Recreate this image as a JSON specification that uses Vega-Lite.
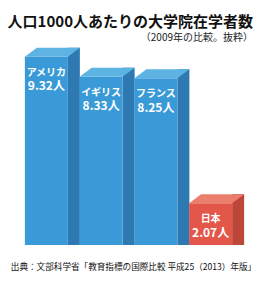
{
  "$schema": "https://vega.github.io/schema/vega-lite/v6.json",
  "width": 219,
  "height": 194,
  "autosize": {"type": "none"},
  "padding": {"left": 19, "top": 51, "right": 25, "bottom": 36},
  "background": "white",
  "config": {
    "view": {"stroke": null},
    "font": "Noto Sans CJK JP"
  },
  "title": {
    "text": "人口1000人あたりの大学院在学者数",
    "subtitle": "（2009年の比較。抜粋）",
    "anchor": "end",
    "frame": "group",
    "dx": 15,
    "offset": 5,
    "font": "Noto Sans CJK JP",
    "fontSize": 15,
    "fontWeight": "bold",
    "color": "#111111",
    "subtitleFont": "Noto Sans CJK JP",
    "subtitleFontSize": 10,
    "subtitleColor": "#222222",
    "subtitlePadding": 3
  },
  "data": {
    "values": [
      {"country": "アメリカ", "value": 9.32},
      {"country": "イギリス", "value": 8.33},
      {"country": "フランス", "value": 8.25},
      {"country": "日本", "value": 2.07}
    ]
  },
  "transform": [
    {"calculate": "format(datum.value, '.2f') + '人'", "as": "label"}
  ],
  "encoding": {
    "x": {
      "field": "country",
      "type": "nominal",
      "sort": null,
      "scale": {"paddingInner": 0, "paddingOuter": 0},
      "axis": {
        "labels": false,
        "ticks": false,
        "domain": false,
        "grid": false,
        "title": "出典：文部科学省「教育指標の国際比較 平成25（2013）年版」",
        "titleFont": "Noto Sans CJK JP",
        "titleFontSize": 8.6,
        "titleFontWeight": "normal",
        "titleColor": "#111111",
        "titlePadding": 17,
        "titleX": 114
      }
    },
    "y": {
      "field": "value",
      "type": "quantitative",
      "scale": {"domain": [0, 9.6], "nice": false},
      "axis": null
    }
  },
  "layer": [
    {
      "mark": {"type": "bar", "width": 12, "xOffset": 27.5, "yOffset": -9},
      "encoding": {
        "y2": {"datum": 0},
        "color": {
          "condition": {"test": "datum.country === '日本'", "value": "#bb4639"},
          "value": "#2f79b3"
        }
      }
    },
    {
      "mark": {"type": "bar", "width": 43},
      "encoding": {
        "y2": {"datum": 0},
        "color": {
          "condition": {"test": "datum.country === '日本'", "value": "#e2574a"},
          "value": "#3a9ad7"
        }
      }
    },
    {
      "mark": {
        "type": "point",
        "shape": "M-1,0.1636L0.5636,0.1636L1,-0.1636L-0.5636,-0.1636Z",
        "size": 3025,
        "filled": true,
        "opacity": 1,
        "strokeWidth": 0,
        "xOffset": 6,
        "yOffset": -4.5
      },
      "encoding": {
        "color": {
          "condition": {"test": "datum.country === '日本'", "value": "#ec7e6e"},
          "value": "#5db3e2"
        }
      }
    },
    {
      "mark": {
        "type": "text",
        "dy": 16,
        "fontSize": 10,
        "fontWeight": "bold",
        "color": "white",
        "font": "Noto Sans CJK JP"
      },
      "encoding": {"text": {"field": "country"}}
    },
    {
      "mark": {
        "type": "text",
        "dy": 29.5,
        "fontSize": 12,
        "fontWeight": "bold",
        "color": "white",
        "font": "Noto Sans CJK JP"
      },
      "encoding": {"text": {"field": "label"}}
    }
  ]
}
